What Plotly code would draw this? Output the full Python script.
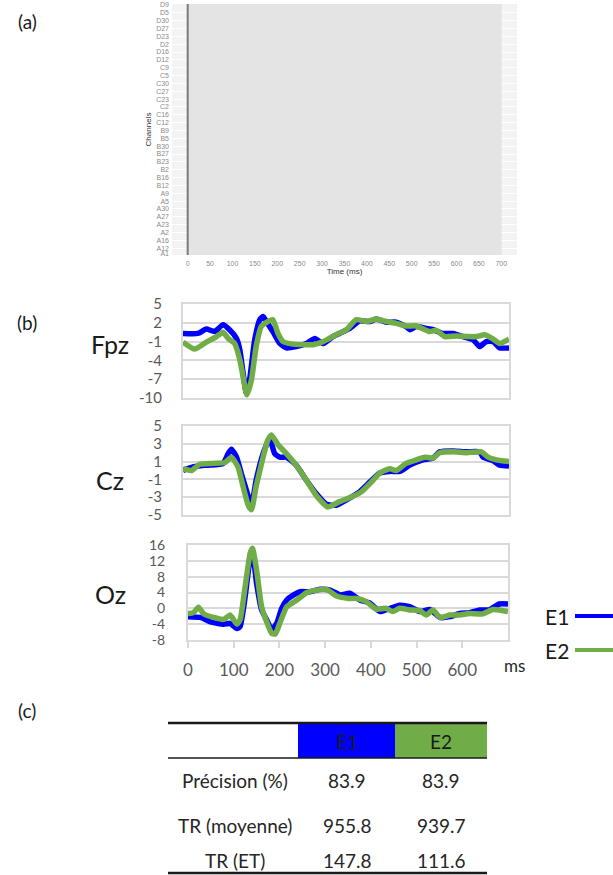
import plotly.graph_objects as go

# ------------------------------------------------------------------ data
# (a) channel raster
channel_ticks = ["A1", "A12", "A16", "A2", "A23", "A27", "A30", "A5", "A9",
                 "B12", "B16", "B2", "B23", "B27", "B30", "B5", "B9",
                 "C12", "C16", "C2", "C23", "C27", "C30", "C5", "C9",
                 "D12", "D16", "D2", "D23", "D27", "D30", "D5", "D9"]
n_channels = 128
time_ticks = list(range(0, 701, 50))
epoch_ms = [0, 700]
image_z = [[0.0]]

# (b) ERPs
fpz_e1_t = [0, 32, 50, 68, 86, 100, 115, 122, 129, 136, 143, 154, 165, 172, 179, 193, 208, 222, 243, 265,
            283, 301, 322, 336, 358, 379, 401, 415, 436, 458, 479, 487, 501, 522, 537, 558, 580, 601, 623, 637,
            651, 666, 680, 700]
fpz_e1_v = [0.3, 0.3, 1.0, 0.6, 1.7, 0.9, -0.5, -2.3, -6.0, -9.2, -7.1, -0.7, 2.5, 3.0, 2.2, 0.6, -1.3, -2.0, -1.8, -1.3,
            -0.5, -1.3, -0.2, 0.3, 1.1, 2.3, 2.2, 2.6, 2.1, 2.1, 1.4, 0.9, 1.4, 1.1, 0.9, 0.3, 0.3, -0.2, -0.7, -1.8,
            -1.0, -1.0, -2.0, -2.0]
fpz_e2_t = [0, 25, 50, 72, 86, 97, 111, 122, 129, 137, 147, 157, 168, 182, 193, 204, 215, 236, 265, 279,
            301, 329, 351, 372, 394, 415, 436, 458, 479, 501, 530, 544, 562, 587, 612, 630, 648, 666, 680, 700]
fpz_e2_v = [-1.1, -2.2, -1.1, -0.2, 0.5, -0.5, -1.3, -3.9, -6.6, -9.5, -7.1, -1.8, 1.4, 2.2, 2.5, 0.3, -1.0, -1.4, -1.5, -1.5,
            -1.0, 0.1, 0.9, 2.5, 2.2, 2.6, 2.2, 1.9, 1.5, 1.5, 0.6, 0.8, -0.2, -0.1, -0.2, -0.2, 0.1, -0.6, -1.3, -0.6]

cz_e1_t = [0, 21, 50, 86, 97, 104, 115, 125, 136, 147, 157, 172, 186, 197, 208, 222, 243, 265, 286, 308,
           329, 351, 379, 401, 422, 444, 465, 487, 515, 537, 551, 580, 609, 637, 644, 666, 680, 700]
cz_e1_v = [0.0, 0.4, 0.6, 0.8, 1.9, 2.4, 1.5, -0.3, -2.2, -3.9, -1.1, 1.9, 3.6, 1.9, 1.5, 1.5, 0.6, -1.1, -2.6, -3.8,
           -3.9, -3.3, -2.4, -1.3, -0.3, -0.1, -0.1, 0.6, 1.2, 1.4, 2.1, 2.2, 2.1, 2.1, 1.5, 1.1, 0.6, 0.5]
cz_e2_t = [0, 18, 36, 64, 90, 104, 118, 129, 140, 147, 157, 172, 182, 190, 204, 222, 243, 265, 286, 311,
           336, 365, 383, 408, 422, 444, 458, 479, 501, 519, 537, 551, 580, 609, 641, 655, 673, 700]
cz_e2_v = [0.2, 0.0, 0.7, 0.8, 0.9, 1.5, 0.4, -1.8, -3.9, -4.4, -1.8, 1.5, 3.4, 4.0, 2.9, 1.9, 0.6, -1.1, -2.8, -4.1,
           -3.5, -2.9, -2.4, -1.1, -0.3, 0.2, 0.0, 0.8, 1.2, 1.5, 1.4, 2.0, 2.1, 2.0, 2.1, 1.5, 1.2, 1.0]

oz_e1_t = [0, 27, 49, 78, 92, 107, 114, 125, 136, 142, 150, 161, 172, 183, 194, 205, 216, 231, 245, 267,
           289, 311, 333, 354, 376, 398, 420, 442, 463, 485, 507, 529, 551, 573, 594, 616, 638, 659, 681, 700]
oz_e1_v = [-2.1, -2.3, -3.4, -4.0, -3.8, -5.1, -4.6, 2.9, 12.2, 13.1, 6.3, -0.4, -2.9, -5.3, -3.8, 0.0, 2.1, 3.4, 4.2, 4.2,
           4.8, 4.6, 3.4, 3.8, 2.1, 1.3, -0.8, 0.0, 0.8, 0.4, -0.8, -0.3, -2.3, -2.1, -1.3, -1.1, -0.4, -0.4, 1.1, 1.1]
oz_e2_t = [0, 12, 23, 34, 56, 78, 92, 107, 114, 125, 136, 141, 150, 161, 172, 183, 191, 202, 216, 238,
           260, 282, 303, 325, 351, 369, 390, 412, 433, 448, 463, 485, 507, 521, 536, 551, 573, 594, 616, 645,
           667, 681, 700]
oz_e2_v = [-1.3, -1.1, 0.3, -1.4, -2.3, -2.8, -1.7, -4.0, -2.9, 5.5, 13.9, 15.2, 9.7, 0.4, -3.4, -6.3, -6.5, -3.4, 0.4, 2.1,
           4.0, 4.6, 4.8, 3.1, 2.5, 2.5, 1.7, -0.2, 0.0, -0.8, 0.0, -0.4, -0.6, -1.7, -0.4, -2.3, -1.7, -1.7, -1.3, -1.4,
           -0.3, -0.4, -0.8]

erp_channels = ["Fpz", "Cz", "Oz"]
fpz_ticks = [-10, -7, -4, -1, 2, 5]
cz_ticks = [-5, -3, -1, 1, 3, 5]
oz_ticks = [-8, -4, 0, 4, 8, 12, 16]
erp_time_ticks = [0, 100, 200, 300, 400, 500, 600]
series_names = ["E1", "E2"]
series_colors = ["#0000FF", "#70AD47"]

# (c) table
table_header = ["E1", "E2"]
row_labels = ["Précision (%)", "TR (moyenne)", "TR (ET)"]
e1_values = ["83.9", "955.8", "147.8"]
e2_values = ["83.9", "939.7", "111.6"]

# ------------------------------------------------------------------ layout helpers
W, H = 613, 875


def px(x):
    return x / W


def py(y):
    return 1 - y / H


FONT = "Lato, Carlito, Calibri, sans-serif"
SMALL = "Liberation Sans, Arial, sans-serif"
GRID = "#d9d9d9"
TICK = "#595959"

fig = go.Figure()

# ---------------- (a) raster
fig.add_trace(go.Heatmap(
    x=epoch_ms, y=[-0.5, n_channels - 0.5], z=image_z,
    colorscale=[[0, "#e4e4e4"], [1, "#e4e4e4"]], showscale=False,
    hoverinfo="skip", xaxis="x", yaxis="y"))

# ---------------- (b) ERPs
erp_data = {
    "Fpz": [(fpz_e1_t, fpz_e1_v), (fpz_e2_t, fpz_e2_v)],
    "Cz": [(cz_e1_t, cz_e1_v), (cz_e2_t, cz_e2_v)],
    "Oz": [(oz_e1_t, oz_e1_v), (oz_e2_t, oz_e2_v)],
}
for k, ch in enumerate(erp_channels):
    ax = str(k + 2)
    for (t, v), name, col in zip(erp_data[ch], series_names, series_colors):
        fig.add_trace(go.Scatter(
            x=t, y=v, mode="lines", name=name,
            line=dict(color=col, width=5.5, shape="spline", smoothing=0.5),
            showlegend=False, xaxis="x" + ax, yaxis="y" + ax, cliponaxis=False))

box = dict(showline=True, mirror=True, linecolor=GRID, linewidth=2, zeroline=False, automargin=False)


def yax(lo_px, hi_px, ticks, standoff, anchor, size=15):
    return dict(domain=[py(lo_px), py(hi_px)], range=[ticks[0], ticks[-1]], tickvals=ticks,
                ticktext=[str(t) for t in ticks], gridcolor=GRID, gridwidth=2, ticks="",
                ticklabelstandoff=standoff, tickfont=dict(size=size, color=TICK, family=FONT),
                anchor=anchor, **box)


fig.update_layout(
    template="none",
    width=W, height=H, margin=dict(l=0, r=0, t=0, b=0, autoexpand=False),
    paper_bgcolor="white", plot_bgcolor="rgba(0,0,0,0)",
    showlegend=False,
    font=dict(family=FONT, color="#262626"),
    # panel (a)
    xaxis=dict(domain=[px(172), px(517)], range=[-35, 735], tickvals=time_ticks,
               tickfont=dict(family=SMALL, size=7, color="#8a8a8a"),
               showgrid=False, zeroline=False, showline=False, ticks="", ticklabelstandoff=3,
               title=dict(text="Time (ms)", font=dict(family=SMALL, size=8, color="#333333"), standoff=1),
               anchor="y", automargin=False),
    yaxis=dict(domain=[py(255), py(4)], range=[-0.5, n_channels - 0.5],
               tickvals=[0] + [3 + 4 * i for i in range(len(channel_ticks) - 1)],
               ticktext=channel_ticks,
               tickfont=dict(family=SMALL, size=7, color="#8a8a8a"),
               showgrid=True, gridcolor="white", gridwidth=1, zeroline=False, showline=False, ticks="",
               ticklabelstandoff=2,
               title=dict(text="Channels", font=dict(family=SMALL, size=8, color="#333333"), standoff=3),
               anchor="x", automargin=False),
    # Fpz
    xaxis2=dict(domain=[px(183), px(509)], range=[0, 700], showticklabels=False, showgrid=False,
                ticks="", anchor="y2", **box),
    yaxis2=yax(398, 304, fpz_ticks, 16, "x2"),
    # Cz
    xaxis3=dict(domain=[px(183), px(509)], range=[0, 700], showticklabels=False, showgrid=False,
                ticks="", anchor="y3", **box),
    yaxis3=yax(515, 426, cz_ticks, 16, "x3"),
    # Oz
    xaxis4=dict(domain=[px(188), px(508)], range=[0, 700], tickvals=erp_time_ticks,
                showgrid=False, ticks="outside", ticklen=6, tickcolor=GRID, tickwidth=2,
                ticklabelstandoff=8,
                tickfont=dict(size=17, color=TICK, family=FONT), anchor="y4", **box),
    yaxis4=yax(640, 545, oz_ticks, 18, "x4", size=14),
)

shapes = []
# panel (a) background with faint stripes and stimulus-onset line
shapes.append(dict(type="rect", xref="x domain", yref="y domain", x0=0, x1=1, y0=0, y1=1,
                   fillcolor="#f3f3f3", line=dict(width=0), layer="below"))
shapes.append(dict(type="line", xref="x", yref="y domain", x0=epoch_ms[0], x1=epoch_ms[0], y0=0, y1=1,
                   line=dict(color="#7a7a7a", width=2)))

annotations = []


def note(text, x, y, size, color="#1a1a1a", family=FONT):
    annotations.append(dict(text=text, x=px(x), y=py(y), xref="paper", yref="paper", showarrow=False,
                            xanchor="center", yanchor="middle",
                            font=dict(size=size, color=color, family=family)))


for lab, y in zip(["(a)", "(b)", "(c)"], [22, 322, 710]):
    note(lab, 27, y, 19)
for ch, y in zip(erp_channels, [344, 480, 594]):
    note(ch, 110, y, 25)
note("ms", 514, 665, 17, "#262626")

# legend (text left of line)
for name, col, y in zip(series_names, series_colors, [616, 650]):
    note(name, 557, y, 21)
    shapes.append(dict(type="line", xref="paper", yref="paper", x0=px(575), x1=px(613),
                       y0=py(y), y1=py(y), line=dict(color=col, width=4)))

# ---------------- (c) table
tbl_left, tbl_right = 168, 487
col_edges = [298, 395, 487]
for i, col in enumerate(series_colors):
    shapes.append(dict(type="rect", xref="paper", yref="paper", x0=px(col_edges[i]), x1=px(col_edges[i + 1]),
                       y0=py(758), y1=py(723), fillcolor=col, line=dict(width=0)))
for y, w in [(723, 2.5), (758, 1.5), (873, 2.5)]:
    shapes.append(dict(type="line", xref="paper", yref="paper", x0=px(tbl_left), x1=px(tbl_right),
                       y0=py(y), y1=py(y), line=dict(color="#1a1a1a", width=w)))

col_centers = [235, 347, 441]
for txt, xc in zip(table_header, col_centers[1:]):
    note(txt, xc, 741, 19)
for lab, v1, v2, y in zip(row_labels, e1_values, e2_values, [780, 825, 860]):
    for txt, xc in zip([lab, v1, v2], col_centers):
        note(txt, xc, y, 19, "#262626")

fig.update_layout(shapes=shapes, annotations=annotations)
fig.write_html("out.html", config={"displayModeBar": False},
               post_script="document.body.style.margin='0';document.body.style.overflow='hidden';")
